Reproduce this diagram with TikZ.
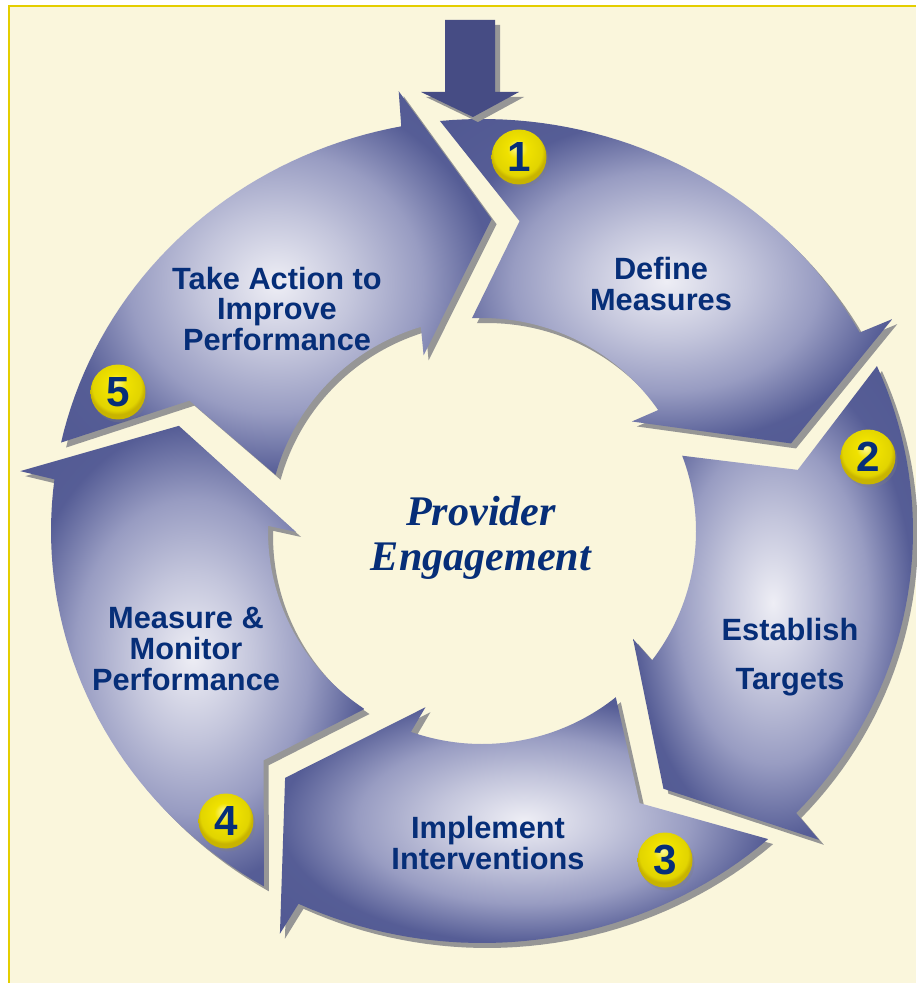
\documentclass[tikz,border=0pt]{standalone}
\usepackage{fontspec}
\setmainfont{Liberation Serif}
\setsansfont{Liberation Sans}
\usetikzlibrary{calc}
\usetikzlibrary{positioning}
\usetikzlibrary{shadows}

\definecolor{paper}{RGB}{250,246,220}
\definecolor{frameline}{RGB}{228,206,0}
\definecolor{segdark}{RGB}{74,82,142}
\definecolor{segmid}{RGB}{152,156,194}
\definecolor{seglight}{RGB}{238,238,245}
\definecolor{segshadow}{RGB}{150,150,150}
\definecolor{inkblue}{RGB}{6,46,120}
\definecolor{entryblue}{RGB}{70,76,132}
\definecolor{badgeyellow}{RGB}{240,226,0}
\definecolor{badgelight}{RGB}{253,250,160}
\definecolor{badgerim}{RGB}{200,180,0}

\pgfdeclareradialshading{segment glow}{\pgfpoint{0bp}{0bp}}{%
    color(0bp)=(seglight); color(9bp)=(segmid!50!seglight); color(17bp)=(segmid);
    color(25bp)=(segdark!85!segmid); color(50bp)=(segdark)}
\pgfdeclareradialshading{badge ball}{\pgfpoint{-2bp}{9bp}}{%
    color(0bp)=(badgelight); color(9bp)=(badgeyellow); color(22bp)=(badgeyellow!94!black);
    color(25bp)=(badgerim); color(50bp)=(badgerim)}

\tikzset{
    ring segment/.style={
        shading=segment glow,
        drop shadow={shadow xshift=1mm, shadow yshift=-1mm, fill=segshadow, opacity=1},
    },
    step badge/.style={
        circle,
        inner sep=0,
        minimum size=1.1cm,
        shade,
        shading=badge ball,
        drop shadow={shadow xshift=0.4mm, shadow yshift=-0.6mm, opacity=0.3},
        text=inkblue,
        font=\sffamily\bfseries\fontsize{24}{24}\selectfont,
    },
    phase label/.style={
        align=center,
        text=inkblue,
        font=\sffamily\bfseries\fontsize{17.5}{17.5}\selectfont,
    },
    hub label/.style={
        align=center,
        text=inkblue,
        font=\rmfamily\bfseries\itshape\fontsize{24}{25.5}\selectfont,
    },
}

\begin{document}
\begin{tikzpicture}[x=0.02cm, y=0.02cm]

    \useasboundingbox (0,0) rectangle (916,-983);
    \fill[white] (0,0) rectangle (916,-983);
    \fill[paper] (9,-6) rectangle (916,-983);
    \draw[frameline, line width=1.4pt] (9,-983) -- (9,-6) -- (916,-6);

    % ring centre, outer and inner radii
    \newcommand\ringx{482}
    \newcommand\ringy{-531}

    % one curved arrow, #1 = angle of its tip
    \newcommand\segpath[1]{
        ({\ringx+431*cos(#1+79.3)},{\ringy+412*sin(#1+79.3)})
        -- plot[variable=\t, domain=#1+79.3:#1+12.5, samples=40]
            ({\ringx+431*cos(\t)},{\ringy+412*sin(\t)})
        -- ({\ringx+466*cos(#1+12)},{\ringy+447*sin(#1+12)})
        -- ({\ringx+322*cos(#1)},{\ringy+312*sin(#1)})
        -- ({\ringx+186*cos(#1+20)},{\ringy+185*sin(#1+20)})
        -- ({\ringx+214*cos(#1+18.3)},{\ringy+213*sin(#1+18.3)})
        -- plot[variable=\t, domain=#1+18.3:#1+76.4, samples=40]
            ({\ringx+214*cos(\t)},{\ringy+213*sin(\t)})
        -- ({\ringx+322*cos(#1+67)},{\ringy+312*sin(#1+67)})
        -- cycle
    }

    \foreach \tip in {16.3,-55.7,-127.7,-199.7,-271.7}
    {
        \shade[ring segment] \segpath{\tip};
    }

    % entry arrow on top
    \fill[entryblue, drop shadow={shadow xshift=1mm, shadow yshift=-1mm, fill=segshadow, opacity=1}]
        (445,-20) -- (495,-20) -- (495,-92) -- (519,-92) -- (473,-117) -- (421,-92) -- (445,-92) -- cycle;

    \foreach \n/\bx/\by in {1/519/157, 2/868/457, 3/665/860, 4/226/821, 5/118/392}
    {
        \node[step badge] (badge\n) at (\bx,-\by) {\n};
    }

    \node[phase label] (define) at (661,-284) {Define\\Measures};
    \node[phase label] (targets) at (790,-657) {Establish\\[10pt]Targets};
    \node[phase label] (implement) at (488,-843) {Implement\\Interventions};
    \node[phase label] (monitor) at (186,-649) {Measure \&\\Monitor\\Performance};
    \node[phase label] (action) at (277,-309) {Take Action to\\Improve\\Performance};

    \node[hub label] (hub) at (481,-538) {Provider\\Engagement};

\end{tikzpicture}
\end{document}
